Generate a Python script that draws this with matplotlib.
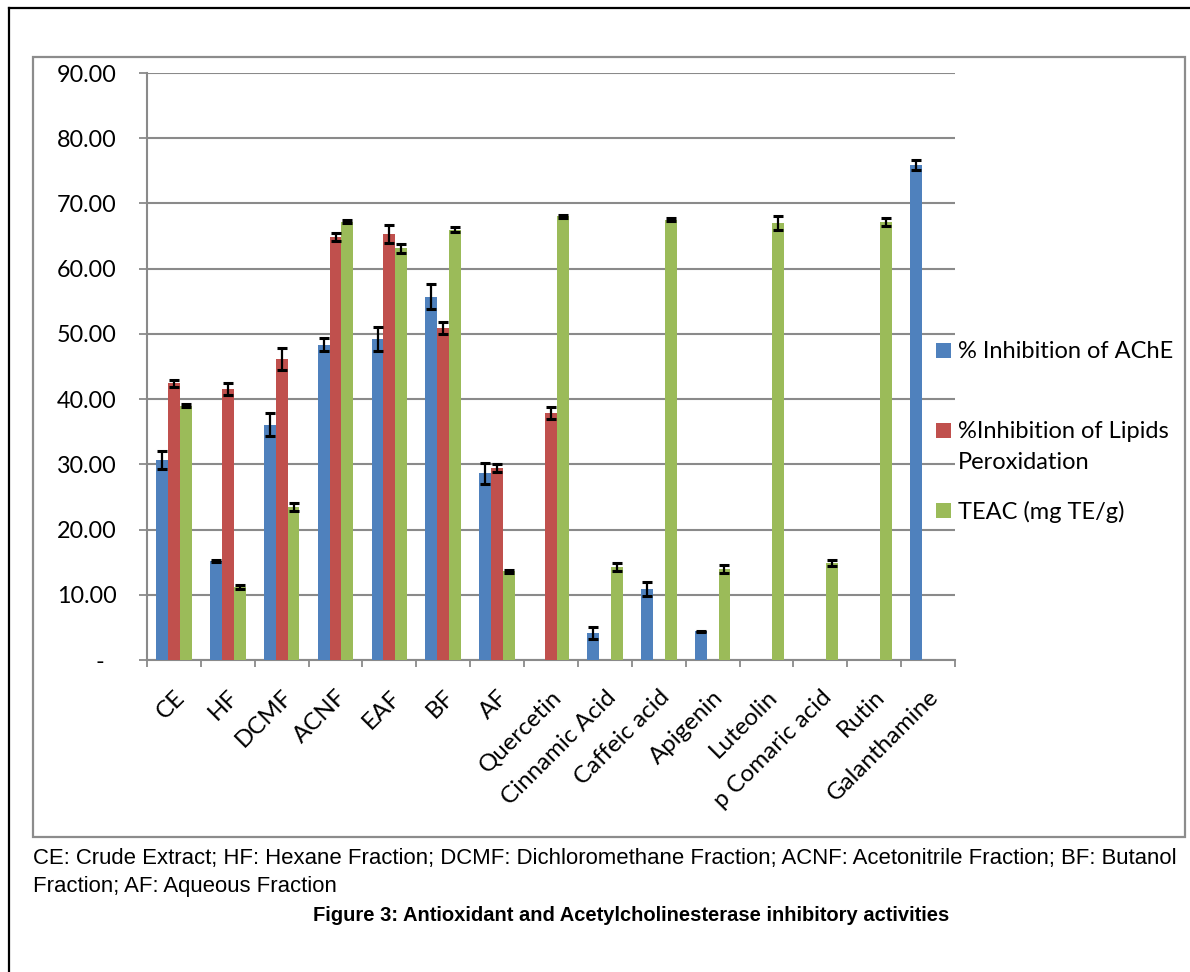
import numpy as np
import matplotlib
matplotlib.use("Agg")
import matplotlib.pyplot as plt
from matplotlib.patches import Rectangle
from matplotlib.lines import Line2D

categories = ["CE", "HF", "DCMF", "ACNF", "EAF", "BF", "AF", "Quercetin",
              "Cinnamic Acid", "Caffeic acid", "Apigenin", "Luteolin",
              "p Comaric acid", "Rutin", "Galanthamine"]
nan = np.nan
ache = [30.7, 15.2, 36.1, 48.3, 49.2, 55.7, 28.6, nan, 4.1, 10.9, 4.4, nan, nan, nan, 75.9]
ache_err = [1.4, 0.2, 1.8, 1.0, 1.9, 1.9, 1.6, nan, 0.9, 1.1, 0.1, nan, nan, nan, 0.8]
lipid = [42.4, 41.5, 46.1, 64.9, 65.3, 50.9, 29.4, 37.9, nan, nan, nan, nan, nan, nan, nan]
lipid_err = [0.5, 0.9, 1.7, 0.6, 1.4, 0.9, 0.6, 0.9, nan, nan, nan, nan, nan, nan, nan]
teac = [39.0, 11.2, 23.4, 67.2, 63.1, 66.0, 13.6, 68.0, 14.3, 67.5, 14.0, 67.0, 14.9, 67.2, nan]
teac_err = [0.2, 0.3, 0.6, 0.2, 0.7, 0.4, 0.2, 0.2, 0.6, 0.2, 0.6, 1.0, 0.5, 0.6, nan]
series_names = ["% Inhibition of AChE", "%Inhibition of Lipids\nPeroxidation", "TEAC (mg TE/g)"]
colors = ["#4F81BD", "#C0504D", "#9BBB59"]
yticks = [0, 10, 20, 30, 40, 50, 60, 70, 80, 90]
ytick_labels = ["-  "] + ["%.2f" % v for v in yticks[1:]]

W, H = 1190, 972
fig = plt.figure(figsize=(W / 100, H / 100), dpi=100)
fx = lambda x: x / W
fy = lambda y: 1 - y / H

chart_font = ["Lato", "DejaVu Sans"]
grid_c = "#8A8A8A"

# outer black border and gray chart frame
fig.add_artist(Line2D([fx(9), fx(9)], [fy(8), 0], color="black", lw=1.6))
fig.add_artist(Line2D([fx(9), 1], [fy(8), fy(8)], color="black", lw=1.6))
fig.add_artist(Rectangle((fx(33), fy(837)), fx(1185) - fx(33), fy(57) - fy(837),
                         fill=False, edgecolor="#8C8C8C", lw=1.6))

ax = fig.add_axes([fx(147), fy(660), fx(955) - fx(147), fy(73) - fy(660)])
n = len(categories)
x = np.arange(n) + 0.5
bw = 0.22
vals = [ache, lipid, teac]
errs = [ache_err, lipid_err, teac_err]
for i, (v, e, c) in enumerate(zip(vals, errs, colors)):
    v = np.array(v, dtype=float)
    e = np.array(e, dtype=float)
    pos = x + (i - 1) * bw
    m = ~np.isnan(v)
    ax.bar(pos[m], v[m], width=bw, color=c, zorder=3, linewidth=0)
    ax.errorbar(pos[m], v[m], yerr=e[m], fmt="none", ecolor="black",
                elinewidth=1.6, capsize=3.6, capthick=2.2, zorder=4)

ax.set_xlim(0, n)
ax.set_ylim(0, 90)
ax.set_yticks(yticks)
ax.set_yticklabels(ytick_labels, fontfamily=chart_font, fontsize=16.8)
ax.yaxis.grid(True, color=grid_c, lw=1.5, zorder=0)
ax.tick_params(axis="y", length=6, width=1.3, color=grid_c, pad=16)
ax.set_xticks(x)
ax.set_xticklabels(categories, rotation=45, ha="right", va="top",
                   rotation_mode="anchor", fontfamily=chart_font, fontsize=17.4)
ax.set_xticks(np.arange(n + 1), minor=True)
ax.tick_params(axis="x", which="major", length=0, pad=19)
ax.tick_params(axis="x", which="minor", length=5, width=1.3, color=grid_c)
for s in ["top", "right"]:
    ax.spines[s].set_visible(False)
for s in ["left", "bottom"]:
    ax.spines[s].set_color(grid_c)
    ax.spines[s].set_linewidth(1.5)
ax.set_axisbelow(True)

# legend
leg_y = [351, 431, 511]
for yy, name, c in zip(leg_y, series_names, colors):
    fig.add_artist(Rectangle((fx(936), fy(yy + 7)), 15 / W, 15 / H, color=c, lw=0))
    fig.text(fx(958), fy(yy - 10), name, fontfamily=chart_font, fontsize=17,
             va="top", ha="left", linespacing=1.56)

cap_font = ["Liberation Sans Narrow", "Liberation Sans", "DejaVu Sans"]
fig.text(fx(33), fy(858), "CE: Crude Extract; HF: Hexane Fraction; DCMF: Dichloromethane Fraction; "
         "ACNF: Acetonitrile Fraction; BF: Butanol", fontfamily=cap_font, fontsize=15.9,
         va="center", ha="left")
fig.text(fx(33), fy(886), "Fraction; AF: Aqueous Fraction", fontfamily=cap_font,
         fontsize=15.9, va="center", ha="left")
fig.text(fx(631), fy(915), "Figure 3: Antioxidant and Acetylcholinesterase inhibitory activities",
         fontfamily=cap_font, fontsize=14.5, fontweight="bold", va="center", ha="center")

fig.savefig("out.png", dpi=100)
